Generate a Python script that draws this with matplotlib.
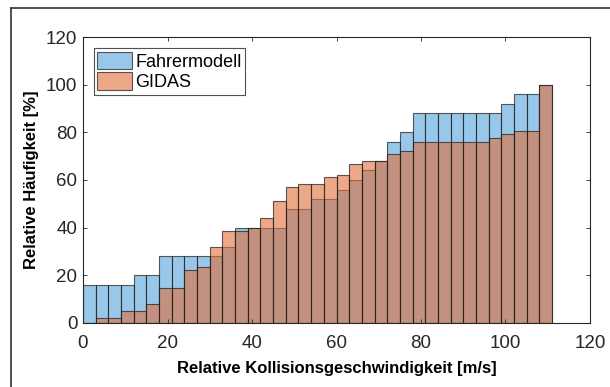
import matplotlib
matplotlib.use("Agg")
import matplotlib.pyplot as plt
from matplotlib.lines import Line2D
import numpy as np

# bin layout: 37 bins, 3 m/s wide, starting at 0
bin_width = 3.0
bin_left = np.arange(37) * bin_width

fahrermodell = [
    16, 16, 16, 16, 20, 20, 28, 28, 28, 28,
    28, 32, 40, 40, 40, 40, 48, 48, 52, 52,
    56, 60, 64, 68, 76, 80, 88, 88, 88, 88,
    88, 88, 88, 92, 96, 96, 100,
]
gidas = [
    0, 2.1, 2.1, 5.0, 5.0, 7.9, 14.7, 14.7, 22.0, 23.3,
    31.7, 38.5, 38.5, 39.8, 44.1, 51.0, 56.9, 58.2, 58.2, 61.1,
    62.1, 66.6, 67.9, 67.9, 70.9, 72.3, 76.1, 76.1, 76.1, 76.1,
    76.1, 76.1, 77.7, 79.2, 80.7, 80.7, 100,
]

x_ticks = [0, 20, 40, 60, 80, 100, 120]
y_ticks = [0, 20, 40, 60, 80, 100, 120]

plt.rcParams["font.family"] = ["Liberation Sans", "DejaVu Sans"]

fig = plt.figure(figsize=(6.10, 3.87), dpi=100)
ax = fig.add_axes([83 / 610, (387 - 322.7) / 387, 507 / 610, 285.4 / 387])

blue = (0.33, 0.64, 0.86, 0.6)
orange = (0.88, 0.43, 0.22, 0.6)
edge = (0.1, 0.1, 0.1, 0.7)

ax.bar(bin_left, fahrermodell, width=bin_width, align="edge",
       facecolor=blue, edgecolor=edge, linewidth=0.8, label="Fahrermodell")
ax.bar(bin_left, gidas, width=bin_width, align="edge",
       facecolor=orange, edgecolor=edge, linewidth=0.8, label="GIDAS")

ax.set_xlim(0, 120)
ax.set_ylim(0, 120)
ax.set_xticks(x_ticks)
ax.set_yticks(y_ticks)
ax.tick_params(direction="in", length=3, width=0.6, labelsize=13.5,
               colors="#262626", top=True, right=True)
ax.tick_params(axis="x", pad=9)
ax.tick_params(axis="y", pad=4)
for spine in ax.spines.values():
    spine.set_color("#262626")
    spine.set_linewidth(0.8)

ax.set_xlabel("Relative Kollisionsgeschwindigkeit [m/s]", fontsize=12,
              fontweight="bold", labelpad=6)
ax.set_ylabel("Relative Häufigkeit [%]", fontsize=12,
              fontweight="bold", labelpad=5)

leg = ax.legend(loc="upper left", fontsize=13, frameon=True, fancybox=False,
                borderpad=0.2, handlelength=1.9, handleheight=1.1,
                handletextpad=0.2, labelspacing=0.1, borderaxespad=0.6)
leg.get_frame().set_edgecolor("#262626")
leg.get_frame().set_linewidth(0.8)

# outer frame of the original figure window
fig.add_artist(Line2D([11 / 610, 11 / 610], [0, 1 - 8.3 / 387],
                      transform=fig.transFigure, color="#333333", lw=1.2))
fig.add_artist(Line2D([11 / 610, 1], [1 - 8.3 / 387, 1 - 8.3 / 387],
                      transform=fig.transFigure, color="#333333", lw=1.2))

fig.savefig("out.png", dpi=100)
